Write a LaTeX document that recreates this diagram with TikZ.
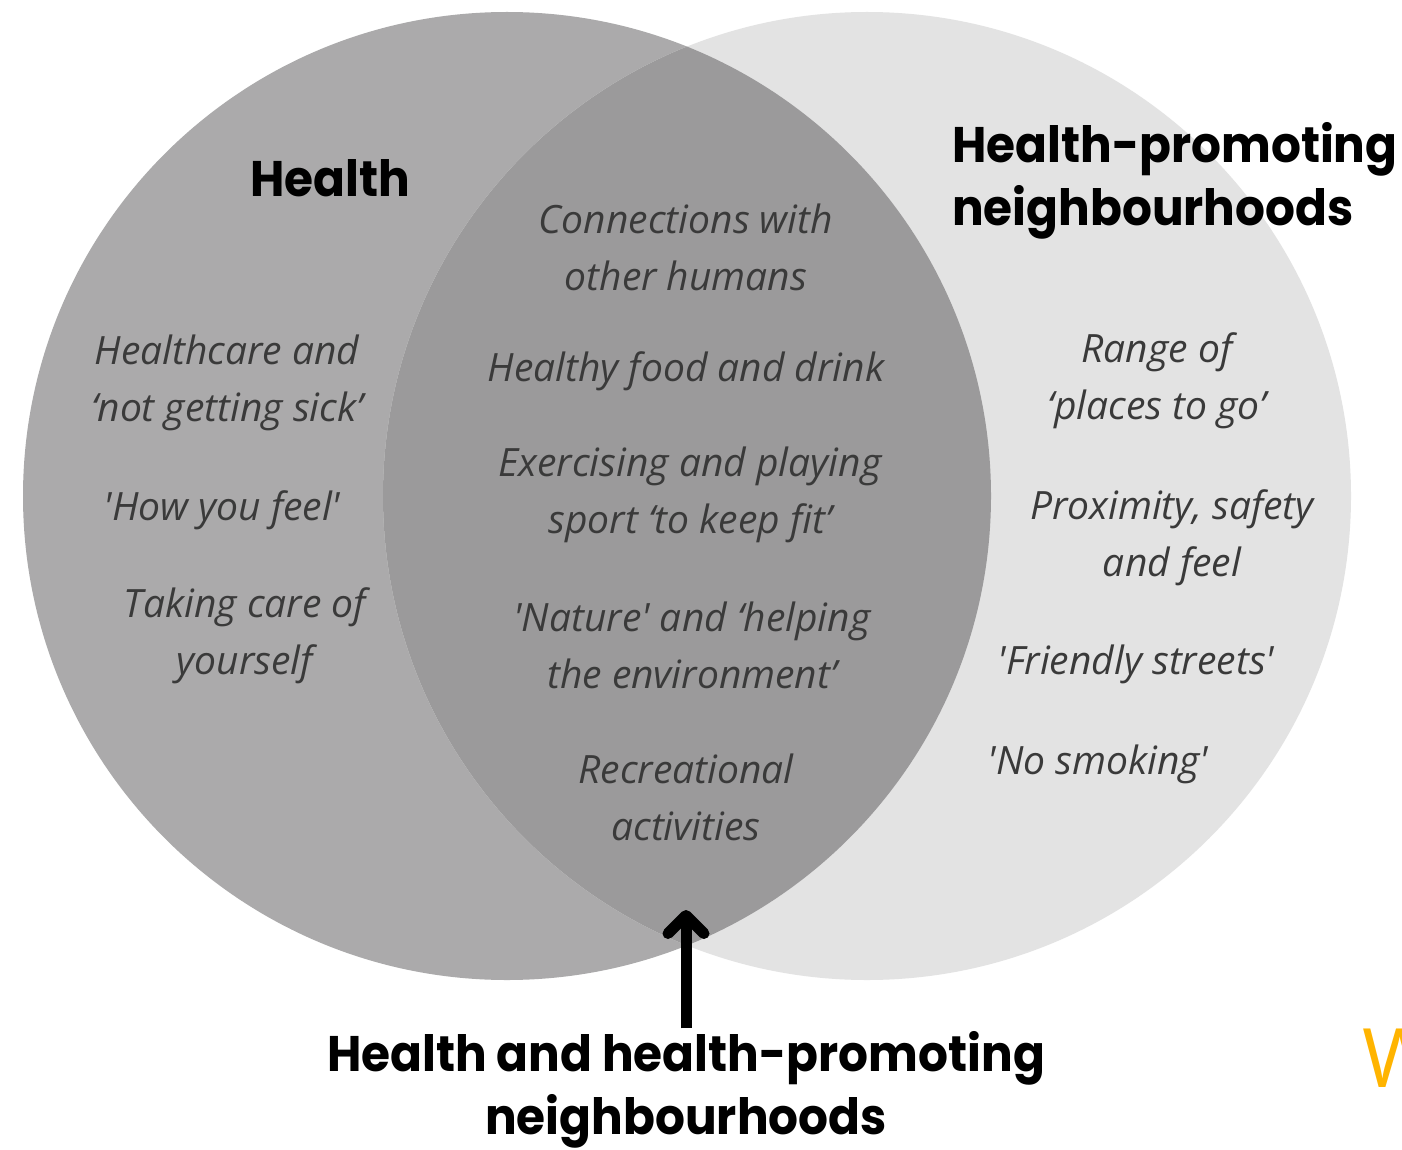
\documentclass[tikz,border=0pt]{standalone}
\usepackage{fontspec}
\setmainfont{Open Sans}
\newfontfamily\headfont{Poppins}[FakeStretch=0.94]
\usetikzlibrary{arrows.meta}

\definecolor{leftgrey}{RGB}{171,170,171}
\definecolor{rightgrey}{RGB}{227,227,227}
\definecolor{lensgrey}{RGB}{155,154,155}
\definecolor{txtgrey}{RGB}{58,58,58}
\definecolor{logoorange}{RGB}{255,180,0}

% straight single quote
\newcommand\sq{\textquotesingle}

\tikzset{
  itemtext/.style={font=\fontsize{39}{57}\selectfont\itshape, text=txtgrey, align=center, inner sep=0pt},
  headtext/.style={font=\headfont\bfseries\fontsize{50}{63}\selectfont, text=black, inner sep=0pt},
}

\begin{document}
\begin{tikzpicture}[x=1pt,y=-1pt]
  \clip (0,0) rectangle (1402,1150);
  \fill[white] (0,0) rectangle (1402,1150);

  % the two sets and their overlap
  \coordinate (cL) at (507,496);
  \coordinate (cR) at (867,496);
  \fill[leftgrey] (cL) circle (484pt);
  \fill[rightgrey] (cR) circle (484pt);
  \begin{scope}
    \clip (cL) circle (484pt);
    \fill[lensgrey] (cR) circle (484pt);
  \end{scope}

  % headings
  \node[headtext] (hHealth) at (330,178) {Health};
  \node[headtext, align=left, anchor=west] (hNeigh) at (952,181) {Health-promoting\\neighbourhoods};

  % health only
  \node[itemtext] (l1) at (227,383) {Healthcare and\\‘not getting sick’};
  \node[itemtext] (l2) at (222,510) {\sq How you feel\sq};
  \node[itemtext] (l3) at (245,636) {Taking care of\\yourself};

  % overlap
  \node[itemtext] (m1) at (686,247) {Connections with\\other humans};
  \node[itemtext] (m2) at (686,371) {Healthy food and drink};
  \node[itemtext] (m3) at (690,495) {Exercising and playing\\sport ‘to keep fit’};
  \node[itemtext] (m4) at (692,645) {\sq Nature\sq{} and ‘helping\\the environment’};
  \node[itemtext] (m5) at (686,797) {Recreational\\activities};

  % neighbourhoods only
  \node[itemtext] (r1) at (1157,381) {Range of\\‘places to go’};
  \node[itemtext] (r2) at (1172,538) {Proximity, safety\\and feel};
  \node[itemtext] (r3) at (1136,664) {\sq Friendly streets\sq};
  \node[itemtext] (r4) at (1098,764) {\sq No smoking\sq};

  % label for the overlap and its pointer
  \node[headtext, align=center] (hBoth) at (686,1090) {Health and health-promoting\\neighbourhoods};
  \coordinate (tip) at (686,910);
  \draw[line width=11pt, -{Straight Barb[length=18pt,width=36pt,round]}]
    ([yshift=3pt]hBoth.north) -- (tip);

  % partial logo letter at the edge
  \node[font=\fontsize{82}{82}\selectfont, text=logoorange, anchor=west, inner sep=0pt] (logo) at (1362,1058) {W};
\end{tikzpicture}
\end{document}
